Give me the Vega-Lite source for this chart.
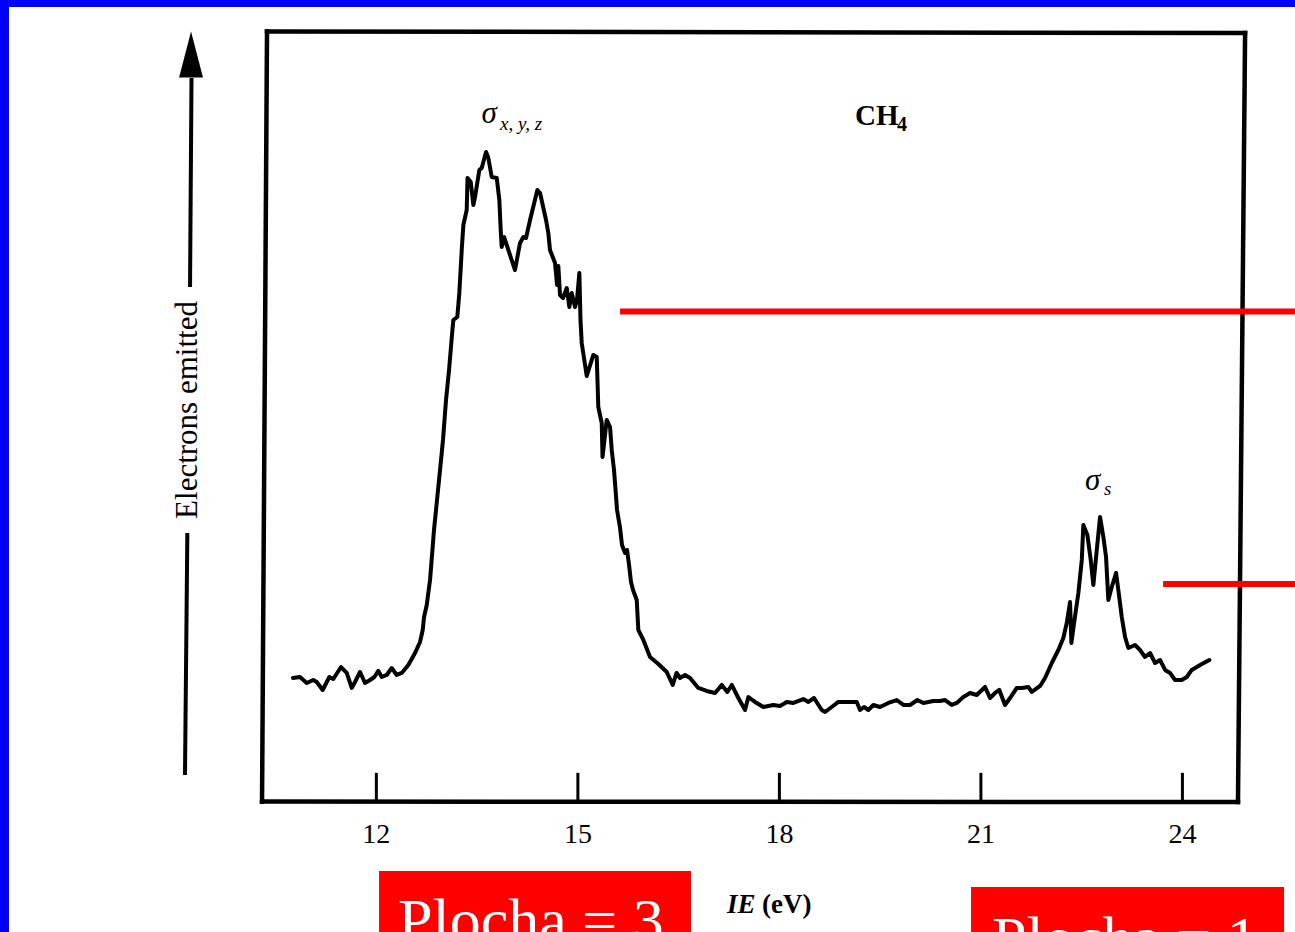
{
  "$schema": "https://vega.github.io/schema/vega-lite/v6.json",
  "width": 1295,
  "height": 932,
  "autosize": "none",
  "padding": 0,
  "background": "white",
  "config": {"view": {"stroke": null}},
  "datasets": {
    "border": [
      {"x": 6.397, "x2": 6.531, "y": -16.69, "y2": 103.88},
      {"x": 6.397, "x2": 25.676, "y": 102.98, "y2": 103.88}
    ],
    "spectrum": [
      {"ie":10.759,"n":16.17},{"ie":10.863,"n":16.30},{"ie":10.963,"n":15.52},{"ie":11.061,"n":15.91},{"ie":11.112,"n":15.65},{"ie":11.201,"n":14.62},{"ie":11.300,"n":16.30},{"ie":11.359,"n":16.04},{"ie":11.474,"n":17.59},{"ie":11.559,"n":16.82},{"ie":11.633,"n":14.88},{"ie":11.682,"n":15.65},{"ie":11.757,"n":16.95},{"ie":11.831,"n":15.52},{"ie":11.906,"n":15.91},{"ie":11.970,"n":16.30},{"ie":12.029,"n":17.08},{"ie":12.080,"n":16.30},{"ie":12.154,"n":16.56},{"ie":12.229,"n":17.46},{"ie":12.303,"n":16.56},{"ie":12.378,"n":16.82},{"ie":12.476,"n":17.85},{"ie":12.576,"n":19.40},{"ie":12.650,"n":20.83},{"ie":12.690,"n":22.38},{"ie":12.710,"n":24.06},{"ie":12.750,"n":25.61},{"ie":12.799,"n":28.85},{"ie":12.829,"n":32.08},{"ie":12.858,"n":35.32},{"ie":12.903,"n":39.20},{"ie":12.948,"n":43.08},{"ie":12.992,"n":46.96},{"ie":13.037,"n":52.13},{"ie":13.082,"n":56.02},{"ie":13.122,"n":60.16},{"ie":13.146,"n":62.48},{"ie":13.205,"n":62.87},{"ie":13.235,"n":65.98},{"ie":13.271,"n":71.54},{"ie":13.295,"n":74.77},{"ie":13.345,"n":76.71},{"ie":13.357,"n":80.85},{"ie":13.405,"n":80.34},{"ie":13.444,"n":77.36},{"ie":13.469,"n":78.40},{"ie":13.533,"n":81.89},{"ie":13.569,"n":82.15},{"ie":13.633,"n":84.22},{"ie":13.667,"n":83.44},{"ie":13.717,"n":80.98},{"ie":13.792,"n":80.85},{"ie":13.831,"n":78.01},{"ie":13.851,"n":74.13},{"ie":13.866,"n":71.93},{"ie":13.901,"n":73.22},{"ie":13.950,"n":71.93},{"ie":14.064,"n":68.95},{"ie":14.139,"n":72.45},{"ie":14.188,"n":73.22},{"ie":14.228,"n":73.09},{"ie":14.288,"n":75.42},{"ie":14.397,"n":79.30},{"ie":14.437,"n":78.91},{"ie":14.526,"n":75.42},{"ie":14.560,"n":73.74},{"ie":14.585,"n":71.54},{"ie":14.660,"n":69.86},{"ie":14.690,"n":67.01},{"ie":14.709,"n":69.47},{"ie":14.734,"n":65.72},{"ie":14.779,"n":65.33},{"ie":14.834,"n":66.62},{"ie":14.873,"n":64.17},{"ie":14.908,"n":65.98},{"ie":14.958,"n":64.17},{"ie":14.987,"n":65.07},{"ie":15.022,"n":68.56},{"ie":15.039,"n":62.48},{"ie":15.057,"n":59.51},{"ie":15.132,"n":55.24},{"ie":15.230,"n":57.96},{"ie":15.281,"n":57.70},{"ie":15.304,"n":51.23},{"ie":15.355,"n":49.16},{"ie":15.367,"n":44.76},{"ie":15.429,"n":49.55},{"ie":15.479,"n":48.64},{"ie":15.504,"n":45.67},{"ie":15.538,"n":43.08},{"ie":15.561,"n":40.49},{"ie":15.583,"n":37.90},{"ie":15.628,"n":35.58},{"ie":15.657,"n":33.38},{"ie":15.702,"n":32.34},{"ie":15.732,"n":32.73},{"ie":15.762,"n":30.79},{"ie":15.791,"n":28.59},{"ie":15.821,"n":27.55},{"ie":15.876,"n":26.26},{"ie":15.900,"n":22.38},{"ie":15.975,"n":21.09},{"ie":16.074,"n":18.89},{"ie":16.198,"n":17.98},{"ie":16.323,"n":16.95},{"ie":16.412,"n":15.27},{"ie":16.469,"n":16.82},{"ie":16.521,"n":16.17},{"ie":16.595,"n":16.56},{"ie":16.670,"n":16.17},{"ie":16.793,"n":14.88},{"ie":16.918,"n":14.49},{"ie":17.042,"n":14.23},{"ie":17.142,"n":15.27},{"ie":17.225,"n":14.36},{"ie":17.291,"n":15.27},{"ie":17.389,"n":13.58},{"ie":17.489,"n":12.03},{"ie":17.538,"n":13.71},{"ie":17.637,"n":13.07},{"ie":17.761,"n":12.42},{"ie":17.910,"n":12.68},{"ie":18.010,"n":12.55},{"ie":18.109,"n":13.07},{"ie":18.208,"n":12.94},{"ie":18.357,"n":13.45},{"ie":18.431,"n":13.07},{"ie":18.516,"n":13.58},{"ie":18.630,"n":12.03},{"ie":18.680,"n":11.77},{"ie":18.779,"n":12.42},{"ie":18.878,"n":13.07},{"ie":19.003,"n":13.07},{"ie":19.152,"n":13.07},{"ie":19.201,"n":12.03},{"ie":19.260,"n":12.42},{"ie":19.324,"n":12.03},{"ie":19.399,"n":12.68},{"ie":19.498,"n":12.42},{"ie":19.622,"n":12.94},{"ie":19.747,"n":13.32},{"ie":19.845,"n":12.68},{"ie":19.945,"n":12.68},{"ie":20.054,"n":13.32},{"ie":20.143,"n":12.94},{"ie":20.292,"n":13.20},{"ie":20.392,"n":13.20},{"ie":20.466,"n":13.32},{"ie":20.566,"n":12.68},{"ie":20.640,"n":12.94},{"ie":20.739,"n":13.71},{"ie":20.838,"n":14.23},{"ie":20.938,"n":13.97},{"ie":21.062,"n":15.01},{"ie":21.136,"n":13.58},{"ie":21.211,"n":14.23},{"ie":21.274,"n":14.62},{"ie":21.359,"n":12.68},{"ie":21.434,"n":13.58},{"ie":21.534,"n":14.88},{"ie":21.608,"n":14.88},{"ie":21.706,"n":15.01},{"ie":21.757,"n":14.36},{"ie":21.881,"n":15.14},{"ie":21.955,"n":16.17},{"ie":22.055,"n":18.11},{"ie":22.153,"n":19.79},{"ie":22.227,"n":21.35},{"ie":22.278,"n":23.29},{"ie":22.327,"n":26.00},{"ie":22.347,"n":20.70},{"ie":22.387,"n":23.29},{"ie":22.451,"n":27.17},{"ie":22.502,"n":31.44},{"ie":22.525,"n":35.96},{"ie":22.585,"n":34.67},{"ie":22.635,"n":31.44},{"ie":22.674,"n":28.20},{"ie":22.725,"n":32.73},{"ie":22.774,"n":37.00},{"ie":22.823,"n":34.41},{"ie":22.863,"n":31.82},{"ie":22.897,"n":26.26},{"ie":22.948,"n":27.94},{"ie":23.012,"n":29.75},{"ie":23.046,"n":27.55},{"ie":23.097,"n":24.06},{"ie":23.146,"n":21.47},{"ie":23.195,"n":20.05},{"ie":23.295,"n":20.44},{"ie":23.369,"n":19.79},{"ie":23.443,"n":18.89},{"ie":23.518,"n":19.40},{"ie":23.593,"n":18.11},{"ie":23.667,"n":18.50},{"ie":23.742,"n":17.21},{"ie":23.816,"n":16.82},{"ie":23.890,"n":15.91},{"ie":23.990,"n":15.91},{"ie":24.065,"n":16.30},{"ie":24.139,"n":17.21},{"ie":24.263,"n":17.85},{"ie":24.401,"n":18.50}
    ],
    "frame": [
      {"x": 10.372, "y": 99.81, "x2": 24.933, "y2": 99.61},
      {"x": 24.933, "y": 99.61, "x2": 24.827, "y2": 0.13},
      {"x": 24.827, "y": 0.13, "x2": 10.298, "y2": 0.19},
      {"x": 10.298, "y": 0.19, "x2": 10.372, "y2": 99.81}
    ],
    "ticks": [
      {"ie": 12, "label": "12"},
      {"ie": 15, "label": "15"},
      {"ie": 18, "label": "18"},
      {"ie": 21, "label": "21"},
      {"ie": 24, "label": "24"}
    ],
    "arrowShaft": [
      {"x": 9.248, "y": 93.79, "x2": 9.226, "y2": 66.75},
      {"x": 9.186, "y": 34.93, "x2": 9.151, "y2": 3.62}
    ],
    "redLines": [
      {"x": 15.628, "x2": 25.676, "y": 63.58},
      {"x": 23.712, "x2": 25.676, "y": 28.33}
    ],
    "redBoxes": [
      {"x": 12.040, "x2": 16.685, "y": -8.80, "y2": -16.69},
      {"x": 20.853, "x2": 25.513, "y": -10.87, "y2": -16.69}
    ],
    "redTexts": [
      {"x": 12.322, "y": -17.85, "label": "Plocha = 3"},
      {"x": 21.166, "y": -20.18, "label": "Plocha = 1"}
    ]
  },
  "layer": [
    {
      "data": {"name": "border"},
      "mark": {"type": "rect", "fill": "#0000FF"},
      "encoding": {
        "x": {"field": "x", "type": "quantitative", "axis": null, "scale": {"domain": [6.397, 25.676], "nice": false, "zero": false}},
        "x2": {"field": "x2"},
        "y": {"field": "y", "type": "quantitative", "axis": null, "scale": {"domain": [-16.69, 103.88], "nice": false, "zero": false}},
        "y2": {"field": "y2"}
      }
    },
    {
      "data": {"name": "spectrum"},
      "mark": {"type": "line", "color": "#000000", "strokeWidth": 4, "strokeJoin": "round", "strokeCap": "round"},
      "encoding": {
        "x": {"field": "ie", "type": "quantitative", "axis": null, "scale": {"domain": [6.397, 25.676], "nice": false, "zero": false}},
        "y": {"field": "n", "type": "quantitative", "axis": null, "scale": {"domain": [-16.69, 103.88], "nice": false, "zero": false}}
      }
    },
    {
      "data": {"name": "frame"},
      "mark": {"type": "rule", "color": "#000000", "strokeWidth": 4.5, "strokeCap": "square"},
      "encoding": {
        "x": {"field": "x", "type": "quantitative", "axis": null, "scale": {"domain": [6.397, 25.676], "nice": false, "zero": false}},
        "x2": {"field": "x2"},
        "y": {"field": "y", "type": "quantitative", "axis": null, "scale": {"domain": [-16.69, 103.88], "nice": false, "zero": false}},
        "y2": {"field": "y2"}
      }
    },
    {
      "data": {"name": "ticks"},
      "mark": {"type": "rule", "color": "#000000", "strokeWidth": 3},
      "encoding": {
        "x": {"field": "ie", "type": "quantitative", "axis": null, "scale": {"domain": [6.397, 25.676], "nice": false, "zero": false}},
        "y": {"datum": 0, "type": "quantitative", "axis": null, "scale": {"domain": [-16.69, 103.88], "nice": false, "zero": false}},
        "y2": {"datum": 3.9}
      }
    },
    {
      "data": {"name": "ticks"},
      "mark": {"type": "text", "font": "Liberation Serif", "fontSize": 28, "color": "#000000", "align": "center", "baseline": "alphabetic"},
      "encoding": {
        "x": {"field": "ie", "type": "quantitative", "axis": null, "scale": {"domain": [6.397, 25.676], "nice": false, "zero": false}},
        "y": {"datum": -5.17, "type": "quantitative", "axis": null, "scale": {"domain": [-16.69, 103.88], "nice": false, "zero": false}},
        "text": {"field": "label"}
      }
    },
    {
      "data": {"values": [{"x": 17.221, "y": -14.23, "label": "IE"}]},
      "mark": {"type": "text", "font": "Liberation Serif", "fontSize": 27, "fontStyle": "italic", "fontWeight": "bold", "color": "#000000", "align": "left", "baseline": "alphabetic"},
      "encoding": {
        "x": {"field": "x", "type": "quantitative", "axis": null, "scale": {"domain": [6.397, 25.676], "nice": false, "zero": false}},
        "y": {"field": "y", "type": "quantitative", "axis": null, "scale": {"domain": [-16.69, 103.88], "nice": false, "zero": false}},
        "text": {"field": "label"}
      }
    },
    {
      "data": {"values": [{"x": 17.742, "y": -14.23, "label": "(eV)"}]},
      "mark": {"type": "text", "font": "Liberation Serif", "fontSize": 27, "fontWeight": "bold", "color": "#000000", "align": "left", "baseline": "alphabetic"},
      "encoding": {
        "x": {"field": "x", "type": "quantitative", "axis": null, "scale": {"domain": [6.397, 25.676], "nice": false, "zero": false}},
        "y": {"field": "y", "type": "quantitative", "axis": null, "scale": {"domain": [-16.69, 103.88], "nice": false, "zero": false}},
        "text": {"field": "label"}
      }
    },
    {
      "data": {"values": [{"x": 19.126, "y": 87.71, "label": "CH"}]},
      "mark": {"type": "text", "font": "Liberation Serif", "fontSize": 29, "fontWeight": "bold", "color": "#000000", "align": "left", "baseline": "alphabetic"},
      "encoding": {
        "x": {"field": "x", "type": "quantitative", "axis": null, "scale": {"domain": [6.397, 25.676], "nice": false, "zero": false}},
        "y": {"field": "y", "type": "quantitative", "axis": null, "scale": {"domain": [-16.69, 103.88], "nice": false, "zero": false}},
        "text": {"field": "label"}
      }
    },
    {
      "data": {"values": [{"x": 19.752, "y": 86.87, "label": "4"}]},
      "mark": {"type": "text", "font": "Liberation Serif", "fontSize": 20, "fontWeight": "bold", "color": "#000000", "align": "left", "baseline": "alphabetic"},
      "encoding": {
        "x": {"field": "x", "type": "quantitative", "axis": null, "scale": {"domain": [6.397, 25.676], "nice": false, "zero": false}},
        "y": {"field": "y", "type": "quantitative", "axis": null, "scale": {"domain": [-16.69, 103.88], "nice": false, "zero": false}},
        "text": {"field": "label"}
      }
    },
    {
      "data": {"values": [{"x": 13.566, "y": 87.97, "label": "σ"}, {"x": 22.550, "y": 40.49, "label": "σ"}]},
      "mark": {"type": "text", "font": "Liberation Serif", "fontSize": 31, "fontStyle": "italic", "color": "#000000", "align": "left", "baseline": "alphabetic"},
      "encoding": {
        "x": {"field": "x", "type": "quantitative", "axis": null, "scale": {"domain": [6.397, 25.676], "nice": false, "zero": false}},
        "y": {"field": "y", "type": "quantitative", "axis": null, "scale": {"domain": [-16.69, 103.88], "nice": false, "zero": false}},
        "text": {"field": "label"}
      }
    },
    {
      "data": {"values": [{"x": 13.841, "y": 87.06, "label": "x, y, z"}, {"x": 22.833, "y": 39.84, "label": "s"}]},
      "mark": {"type": "text", "font": "Liberation Serif", "fontSize": 19, "fontStyle": "italic", "color": "#000000", "align": "left", "baseline": "alphabetic"},
      "encoding": {
        "x": {"field": "x", "type": "quantitative", "axis": null, "scale": {"domain": [6.397, 25.676], "nice": false, "zero": false}},
        "y": {"field": "y", "type": "quantitative", "axis": null, "scale": {"domain": [-16.69, 103.88], "nice": false, "zero": false}},
        "text": {"field": "label"}
      }
    },
    {
      "data": {"values": [{"x": 9.196, "y": 50.84, "label": "Electrons emitted"}]},
      "mark": {"type": "text", "font": "Liberation Serif", "fontSize": 31, "angle": 270, "color": "#000000", "align": "center", "baseline": "middle"},
      "encoding": {
        "x": {"field": "x", "type": "quantitative", "axis": null, "scale": {"domain": [6.397, 25.676], "nice": false, "zero": false}},
        "y": {"field": "y", "type": "quantitative", "axis": null, "scale": {"domain": [-16.69, 103.88], "nice": false, "zero": false}},
        "text": {"field": "label"}
      }
    },
    {
      "data": {"name": "arrowShaft"},
      "mark": {"type": "rule", "color": "#000000", "strokeWidth": 4},
      "encoding": {
        "x": {"field": "x", "type": "quantitative", "axis": null, "scale": {"domain": [6.397, 25.676], "nice": false, "zero": false}},
        "x2": {"field": "x2"},
        "y": {"field": "y", "type": "quantitative", "axis": null, "scale": {"domain": [-16.69, 103.88], "nice": false, "zero": false}},
        "y2": {"field": "y2"}
      }
    },
    {
      "data": {"values": [{"x": 9.241, "y": 96.83}]},
      "mark": {"type": "point", "shape": "M0,-1L0.52,1L-0.52,1Z", "size": 2116, "filled": true, "fill": "#000000", "strokeWidth": 0, "opacity": 1},
      "encoding": {
        "x": {"field": "x", "type": "quantitative", "axis": null, "scale": {"domain": [6.397, 25.676], "nice": false, "zero": false}},
        "y": {"field": "y", "type": "quantitative", "axis": null, "scale": {"domain": [-16.69, 103.88], "nice": false, "zero": false}}
      }
    },
    {
      "data": {"name": "redLines"},
      "mark": {"type": "rule", "color": "#FF0000", "strokeWidth": 6},
      "encoding": {
        "x": {"field": "x", "type": "quantitative", "axis": null, "scale": {"domain": [6.397, 25.676], "nice": false, "zero": false}},
        "x2": {"field": "x2"},
        "y": {"field": "y", "type": "quantitative", "axis": null, "scale": {"domain": [-16.69, 103.88], "nice": false, "zero": false}}
      }
    },
    {
      "data": {"name": "redBoxes"},
      "mark": {"type": "rect", "fill": "#FF0000"},
      "encoding": {
        "x": {"field": "x", "type": "quantitative", "axis": null, "scale": {"domain": [6.397, 25.676], "nice": false, "zero": false}},
        "x2": {"field": "x2"},
        "y": {"field": "y", "type": "quantitative", "axis": null, "scale": {"domain": [-16.69, 103.88], "nice": false, "zero": false}},
        "y2": {"field": "y2"}
      }
    },
    {
      "data": {"name": "redTexts"},
      "mark": {"type": "text", "font": "Liberation Serif", "fontSize": 62, "color": "#FFFFFF", "align": "left", "baseline": "alphabetic"},
      "encoding": {
        "x": {"field": "x", "type": "quantitative", "axis": null, "scale": {"domain": [6.397, 25.676], "nice": false, "zero": false}},
        "y": {"field": "y", "type": "quantitative", "axis": null, "scale": {"domain": [-16.69, 103.88], "nice": false, "zero": false}},
        "text": {"field": "label"}
      }
    }
  ]
}
